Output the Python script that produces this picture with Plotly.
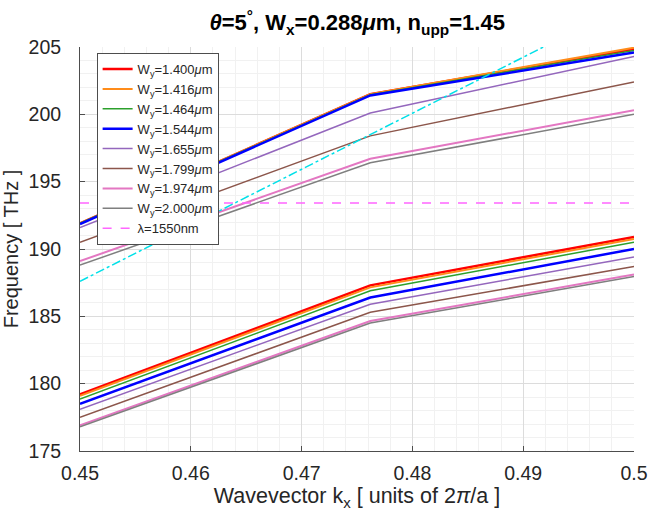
import plotly.graph_objects as go

# Wavevector samples along the band (units of 2*pi/a)
kx = [0.45, 0.4762, 0.5]

# Waveguide widths W_y (um)
wy_values = ["1.400", "1.416", "1.464", "1.544", "1.655", "1.799", "1.974", "2.000"]

# Lower band frequencies (THz), one list per W_y
band_lower = [
    [179.20, 187.30, 190.90],
    [179.10, 187.15, 190.75],
    [178.85, 186.90, 190.50],
    [178.50, 186.40, 190.00],
    [178.10, 185.90, 189.40],
    [177.50, 185.30, 188.70],
    [176.90, 184.65, 188.10],
    [176.80, 184.50, 187.95],
]

# Upper band frequencies (THz), one list per W_y
band_upper = [
    [191.90, 201.50, 204.85],
    [191.90, 201.50, 204.95],
    [191.90, 201.45, 204.75],
    [191.85, 201.40, 204.60],
    [191.60, 200.10, 204.30],
    [190.50, 198.40, 202.40],
    [189.10, 196.70, 200.30],
    [188.80, 196.40, 200.00],
]

# Light line of the upper cladding
light_kx = [0.45, 0.5]
light_freq = [187.6, 208.4]

# Telecom wavelength reference (1550 nm)
telecom_kx = [0.45, 0.5]
telecom_freq = [193.41, 193.41]

x_ticks = [0.45, 0.46, 0.47, 0.48, 0.49, 0.5]
x_tick_text = ["0.45", "0.46", "0.47", "0.48", "0.49", "0.5"]
y_ticks = [175, 180, 185, 190, 195, 200, 205]

colors = ["#FF0000", "#FF8C1A", "#2CA02C", "#0000FF",
          "#9467BD", "#8C564B", "#E377C2", "#7F7F7F"]
widths = [2.5, 2.0, 1.5, 2.5, 1.5, 1.5, 2.0, 1.5]

FONT = "Arial, 'Liberation Sans', Helvetica, sans-serif"

fig = go.Figure()

for wy, lo, up, c, w in zip(wy_values, band_lower, band_upper, colors, widths):
    fig.add_trace(go.Scatter(
        x=kx + [None] + kx,
        y=lo + [None] + up,
        mode="lines",
        line=dict(color=c, width=w),
        name="W<sub>y</sub>=" + wy + "<i>μ</i>m",
        connectgaps=False,
    ))

fig.add_trace(go.Scatter(
    x=telecom_kx, y=telecom_freq, mode="lines",
    line=dict(color="#FF66FF", width=1.5, dash="dash"),
    name="λ=1550nm",
))

fig.add_trace(go.Scatter(
    x=light_kx, y=light_freq, mode="lines",
    line=dict(color="#00E0E8", width=1.5, dash="dashdot"),
    showlegend=False,
))

axis_common = dict(
    showline=True, linecolor="#4D4D4D", linewidth=1,
    ticks="inside", ticklen=5, tickcolor="#4D4D4D",
    showgrid=True, gridcolor="#DCDCDC", gridwidth=1,
    zeroline=False, mirror=False,
    tickfont=dict(family=FONT, size=19.5, color="#262626"),
    ticklabeloverflow="allow",
)

fig.update_layout(
    width=659, height=519,
    margin=dict(l=79, r=11, t=47, b=68),
    paper_bgcolor="white", plot_bgcolor="white",
    title=dict(
        text="<b><i>θ</i>=5<sup>°</sup>, W<sub>x</sub>=0.288<i>μ</i>m, n<sub>upp</sub>=1.45</b>",
        x=0.542, xanchor="center", y=0.972, yanchor="top",
        font=dict(family=FONT, size=22, color="black"),
    ),
    legend=dict(
        x=0.03, y=0.985, xanchor="left", yanchor="top",
        bgcolor="white", bordercolor="#4D4D4D", borderwidth=1,
        font=dict(family=FONT, size=13, color="#262626"),
        itemwidth=30, tracegroupgap=0,
    ),
    showlegend=True,
)

fig.update_xaxes(
    range=[0.45, 0.5], tickvals=x_ticks, ticktext=x_tick_text,
    ticklabelstandoff=5,
    title=dict(text="Wavevector k<sub>x</sub> [ units of 2<i>π</i>/a ]", standoff=0,
               font=dict(family=FONT, size=21.5, color="#262626")),
    minor=dict(dtick=0.002, showgrid=True, gridcolor="#F1F1F1", ticks=""),
    **axis_common,
)
fig.update_yaxes(
    range=[175, 205], tickvals=y_ticks,
    ticklabelstandoff=14,
    title=dict(text="Frequency [ THz ]", standoff=4,
               font=dict(family=FONT, size=20, color="#262626")),
    minor=dict(dtick=1, showgrid=True, gridcolor="#F1F1F1", ticks=""),
    **axis_common,
)

fig.write_html("out.html")
